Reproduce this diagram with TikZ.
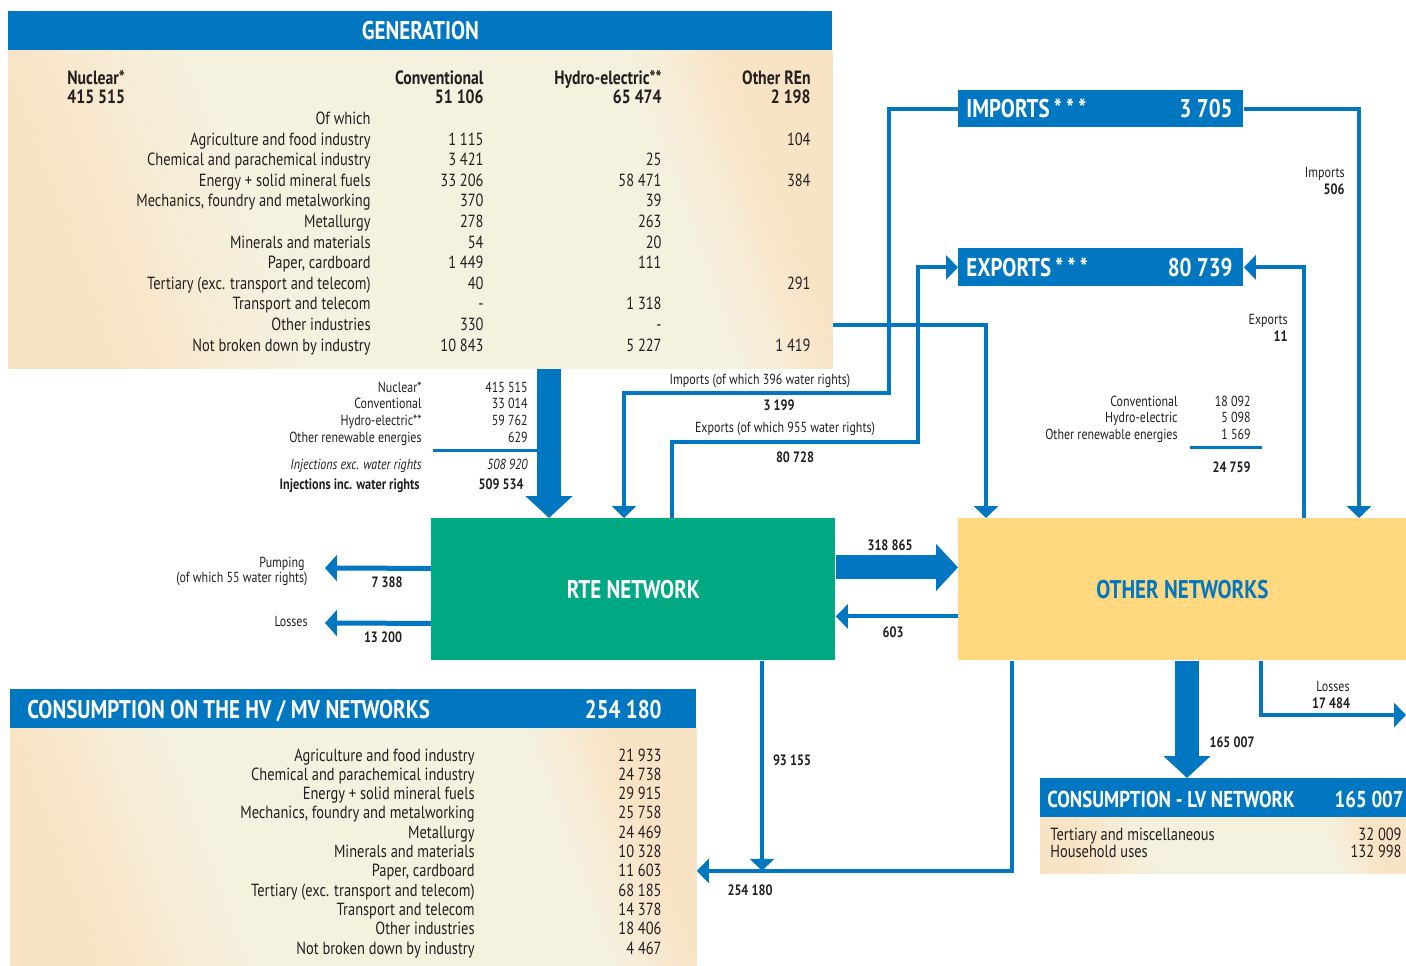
\documentclass[tikz,border=0pt]{standalone}
\usepackage{fontspec}
\setmainfont{PT Sans}[FakeStretch=0.82]
\usetikzlibrary{arrows.meta,calc}

\definecolor{rteblue}{RGB}{0,119,192}
\definecolor{rtegreen}{RGB}{0,168,132}
\definecolor{othyellow}{RGB}{255,216,128}
\definecolor{cream}{RGB}{245,241,223}
\definecolor{peach}{RGB}{249,227,197}
\definecolor{ink}{RGB}{35,31,32}

\pgfdeclarehorizontalshading{panelshade}{100bp}{color(0bp)=(peach); color(25bp)=(peach);
  color(38bp)=(cream); color(68bp)=(cream); color(75bp)=(peach); color(100bp)=(peach)}

\begin{document}
\begin{tikzpicture}[
    x=0.5pt, y=-0.5pt,
    hdr/.style={fill=rteblue, inner sep=0pt, anchor=north west},
    panel/.style={shading=panelshade, shading angle=20, inner sep=0pt, anchor=north west},
    title/.style={text=white, font=\bfseries\fontsize{12.8}{14}\selectfont, inner sep=0pt},
    row/.style={text=ink, font=\fontsize{8.8}{10}\selectfont, inner sep=0pt},
    rowb/.style={text=ink, font=\bfseries\fontsize{9.6}{11}\selectfont, inner sep=0pt},
    small/.style={text=ink, font=\fontsize{7.3}{8}\selectfont, inner sep=0pt},
    smallb/.style={text=ink, font=\bfseries\fontsize{7.5}{8}\selectfont, inner sep=0pt},
    smalli/.style={text=ink, font=\itshape\fontsize{7.3}{8}\selectfont, inner sep=0pt},
    flow/.style={draw=rteblue, line width=2pt, -{Triangle[width=12pt,length=6pt]}},
    sideflow/.style={draw=rteblue, line width=2.5pt, -{Triangle[width=13pt,length=6pt]}},
    bigflow/.style={draw=rteblue, line width=12pt, -{Triangle[width=23pt,length=11pt]}},
    rule/.style={draw=rteblue, line width=1.5pt}
]
    \useasboundingbox (0,0) rectangle (1406,965);

    % boxes
    \node[hdr, minimum width=412pt, minimum height=19.5pt] (genhead) at (8,11) {};
    \node[panel, minimum width=412pt, minimum height=159pt] (genbody) at (8,50) {};
    \node[hdr, minimum width=142.5pt, minimum height=18.5pt] (imports) at (958,90) {};
    \node[hdr, minimum width=142.5pt, minimum height=19pt] (exports) at (958,248) {};
    \node[fill=rtegreen, inner sep=0pt, anchor=north west, minimum width=202pt, minimum height=71pt] (rte) at (431,518) {};
    \node[fill=othyellow, inner sep=0pt, anchor=north west, minimum width=224pt, minimum height=71pt] (other) at (958,518) {};
    \node[hdr, minimum width=343pt, minimum height=19.5pt] (hvhead) at (10,689) {};
    \node[panel, minimum width=343pt, minimum height=118.5pt] (hvbody) at (10,728) {};
    \node[hdr, minimum width=183pt, minimum height=19.5pt] (lvhead) at (1040,778) {};
    \node[panel, minimum width=183pt, minimum height=28pt] (lvbody) at (1040,817) {};

    % titles
    \node[title] (gentitle) at (genhead.center) {GENERATION};
    \node[title, anchor=mid west] (imptitle) at (966,112) {IMPORTS\,*\,*\,*};
    \node[title, anchor=mid east] (impval) at (1233,112) {3 705};
    \node[title, anchor=mid west] (exptitle) at (966,271) {EXPORTS\,*\,*\,*};
    \node[title, anchor=mid east] (expval) at (1233,271) {80 739};
    \node[title] (rtetitle) at (rte.center) {RTE NETWORK};
    \node[title, text=rteblue] (othtitle) at (other.center) {OTHER NETWORKS};
    \node[title, anchor=mid west] (hvtitle) at (27,713) {CONSUMPTION ON THE HV / MV NETWORKS};
    \node[title, anchor=mid east] (hvval) at (662,713) {254 180};
    \node[title, font=\bfseries\fontsize{11.5}{13}\selectfont, anchor=mid west] (lvtitle) at (1047,802) {CONSUMPTION - LV NETWORK};
    \node[title, font=\bfseries\fontsize{11.5}{13}\selectfont, anchor=mid east] (lvval) at (1404,802) {165 007};

    % generation table
    \node[rowb, anchor=mid west] (nuch) at (67,79) {Nuclear*};
    \node[rowb, anchor=mid west] (nucv) at (67,98) {415 515};
    \node[rowb, anchor=mid east] (convh) at (484,79) {Conventional};
    \node[rowb, anchor=mid east] (convv) at (484,98) {51 106};
    \node[rowb, anchor=mid east] (hydh) at (662,79) {Hydro-electric**};
    \node[rowb, anchor=mid east] (hydv) at (662,98) {65 474};
    \node[rowb, anchor=mid east] (renh) at (811,79) {Other REn};
    \node[rowb, anchor=mid east] (renv) at (811,98) {2 198};
    \node[row, anchor=mid east] (ofwhich) at (371,119) {Of which};
    \foreach \lab/\cv/\hv/\ov [count=\i from 0] in {
        Agriculture and food industry/1 115//104,
        Chemical and parachemical industry/3 421/25/,
        Energy + solid mineral fuels/33 206/58 471/384,
        {Mechanics, foundry and metalworking}/370/39/,
        Metallurgy/278/263/,
        Minerals and materials/54/20/,
        {Paper, cardboard}/1 449/111/,
        Tertiary (exc. transport and telecom)/40//291,
        Transport and telecom/-/1 318/,
        Other industries/330/-/,
        Not broken down by industry/10 843/5 227/1 419} {
        \node[row, anchor=mid east] (gl\i) at (371,140+20.6*\i) {\lab};
        \node[row, anchor=mid east] (gc\i) at (484,140+20.6*\i) {\cv};
        \node[row, anchor=mid east] (gh\i) at (662,140+20.6*\i) {\hv};
        \node[row, anchor=mid east] (go\i) at (811,140+20.6*\i) {\ov};
    }

    % injections
    \foreach \lab/\val [count=\i from 0] in {
        Nuclear*/415 515, Conventional/33 014, Hydro-electric**/59 762, Other renewable energies/629} {
        \node[small, anchor=mid east] (il\i) at (422,387+16.7*\i) {\lab};
        \node[small, anchor=mid east] (iv\i) at (528,387+16.7*\i) {\val};
    }
    \draw[rule] (433,450) -- (549,450);
    \node[smalli, anchor=mid east] (excl) at (422,464) {Injections exc. water rights};
    \node[smalli, anchor=mid east] (excv) at (528,464) {508 920};
    \node[smallb, anchor=mid east] (incl) at (420,484) {Injections inc. water rights};
    \node[smallb, anchor=mid east] (incv) at (524,484) {509 534};

    % other networks production
    \foreach \lab/\val [count=\i from 0] in {
        Conventional/18 092, Hydro-electric/5 098, Other renewable energies/1 569} {
        \node[small, anchor=mid east] (ol\i) at (1178,401+16.5*\i) {\lab};
        \node[small, anchor=mid east] (ov\i) at (1251,401+16.5*\i) {\val};
    }
    \draw[rule] (1190,447) -- (1262,447);
    \node[smallb, anchor=mid east] (otot) at (1251,467) {24 759};

    % HV / MV consumption
    \foreach \lab/\val [count=\i from 0] in {
        Agriculture and food industry/21 933,
        Chemical and parachemical industry/24 738,
        Energy + solid mineral fuels/29 915,
        {Mechanics, foundry and metalworking}/25 758,
        Metallurgy/24 469,
        Minerals and materials/10 328,
        {Paper, cardboard}/11 603,
        Tertiary (exc. transport and telecom)/68 185,
        Transport and telecom/14 378,
        Other industries/18 406,
        Not broken down by industry/4 467} {
        \node[row, anchor=mid east] (hl\i) at (475,756+19.3*\i) {\lab};
        \node[row, anchor=mid east] (hv\i) at (662,756+19.3*\i) {\val};
    }

    % LV consumption
    \node[row, anchor=mid west] (lvl0) at (1050,835) {Tertiary and miscellaneous};
    \node[row, anchor=mid east] (lvv0) at (1402,835) {32 009};
    \node[row, anchor=mid west] (lvl1) at (1050,852) {Household uses};
    \node[row, anchor=mid east] (lvv1) at (1402,852) {132 998};

    % free ends
    \coordinate (pumpend) at (325,568);
    \coordinate (lossend) at (325,623);
    \coordinate (olossend) at (1406,715);

    % connectors
    \draw[bigflow] (genbody.south -| 549,0) -- ([xshift=59pt]rte.north west);
    \draw[flow] (imports.west) -| (889,393) -| ([xshift=96.5pt]rte.north west);
    \draw[flow] ([xshift=120.5pt]rte.north west) |- (918,442) |- (exports.west);
    \draw[flow] ([yshift=-58pt]genbody.east) -| ([xshift=14pt]other.north west);
    \draw[flow] (imports.east) -| ([xshift=200.5pt]other.north west);
    \draw[flow] ([xshift=173pt]other.north west) |- (exports.east);
    \draw[bigflow] ([yshift=11pt]rte.east) -- ([yshift=11pt]other.west);
    \draw[flow] ([yshift=-13.5pt]other.west) -- ([yshift=-13.5pt]rte.east);
    \draw[sideflow] ([yshift=10.5pt]rte.west) -- (pumpend);
    \draw[sideflow] ([yshift=-17pt]rte.west) -- (lossend);
    \draw[flow] ([xshift=165.5pt]rte.south west) -- ++(0,210);
    \draw[flow] ([xshift=27pt]other.south west) |- ([yshift=-12pt]hvbody.east);
    \draw[bigflow] ([xshift=114.5pt]other.south west) -- ([xshift=73.5pt]lvhead.north west);
    \draw[flow] ([xshift=151.5pt]other.south west) |- (olossend);

    % connector labels
    \node[small] (implab) at (760,381) {Imports (of which 396 water rights)};
    \node[smallb] (impnum) at (779,405) {3 199};
    \node[small] (explab) at (785,429) {Exports (of which 955 water rights)};
    \node[smallb] (expnum) at (795,457) {80 728};
    \node[small, anchor=mid east] (oimplab) at (1345,172) {Imports};
    \node[smallb, anchor=mid east] (oimpnum) at (1345,189) {506};
    \node[small, anchor=mid east] (oexplab) at (1288,319) {Exports};
    \node[smallb, anchor=mid east] (oexpnum) at (1288,336) {11};
    \node[smallb] (tonum) at (890,545) {318 865};
    \node[smallb] (backnum) at (893,632) {603};
    \node[small, anchor=mid east] (pumplab) at (305,562) {Pumping};
    \node[small, anchor=mid east] (pumplab2) at (308,577) {(of which 55 water rights)};
    \node[smallb] (pumpnum) at (387,582) {7 388};
    \node[small, anchor=mid east] (losslab) at (308,621) {Losses};
    \node[smallb] (lossnum) at (383,637) {13 200};
    \node[smallb] (hvnum1) at (792,760) {93 155};
    \node[smallb] (hvnum2) at (750,890) {254 180};
    \node[small] (olosslab) at (1333,686) {Losses};
    \node[smallb] (olossnum) at (1331,703) {17 484};
    \node[smallb] (lvnum) at (1232,742) {165 007};
\end{tikzpicture}
\end{document}
